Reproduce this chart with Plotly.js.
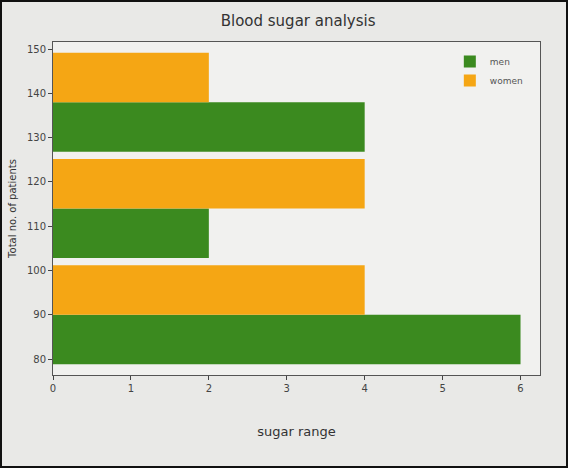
<!DOCTYPE html>
<html><head><meta charset="utf-8">
<script src="https://cdn.plot.ly/plotly-3.0.1.min.js"></script>
<style>html,body{margin:0;padding:0;background:#e9e9e7}#c{width:568px;height:468px;box-sizing:border-box;border:2px solid #111;}</style>
</head><body><div id="c"></div>
<script>
const binCenters = [90, 114, 138];
const menCounts = [6, 2, 4];
const womenCounts = [4, 4, 2];
const seriesNames = ['men', 'women'];
const xTicks = [0, 1, 2, 3, 4, 5, 6];
const yTicks = [80, 90, 100, 110, 120, 130, 140, 150];

const traces = [
  {type:'bar', orientation:'h', name:seriesNames[0], y:binCenters, x:menCounts, marker:{color:'#3b8a1f'}},
  {type:'bar', orientation:'h', name:seriesNames[1], y:binCenters, x:womenCounts, marker:{color:'#f5a614'}}
];
const layout = {
  width:564, height:464,
  paper_bgcolor:'#e9e9e7', plot_bgcolor:'#f1f1ef',
  margin:{l:51, r:26, t:40, b:91},
  font:{family:'DejaVu Sans', color:'#444', size:10},
  title:{text:'Blood sugar analysis', x:0.525, xanchor:'center', y:0.97, font:{size:15, color:'#333'}},
  barmode:'group', bargap:0.07, bargroupgap:0,
  xaxis:{range:[0,6.25], tickvals:xTicks, ticks:'outside', ticklen:4, tickcolor:'#444', showgrid:false, zeroline:false,
         showline:true, linecolor:'#555', mirror:true,
         title:{text:'sugar range', font:{size:13, color:'#333'}, standoff:33}},
  yaxis:{range:[76.4,151.6], tickvals:yTicks, ticks:'outside', ticklen:4, tickcolor:'#444', showgrid:false, zeroline:false,
         showline:true, linecolor:'#555', mirror:true,
         title:{text:'Total no. of patients', font:{size:10, color:'#333'}, standoff:8}},
  legend:{x:0.975, y:0.985, xanchor:'right', yanchor:'top', bgcolor:'rgba(0,0,0,0)', font:{size:9, color:'#555'}, tracegroupgap:2},
  showlegend:true
};
Plotly.newPlot('c', traces, layout, {displayModeBar:false, staticPlot:true});
</script></body></html>
